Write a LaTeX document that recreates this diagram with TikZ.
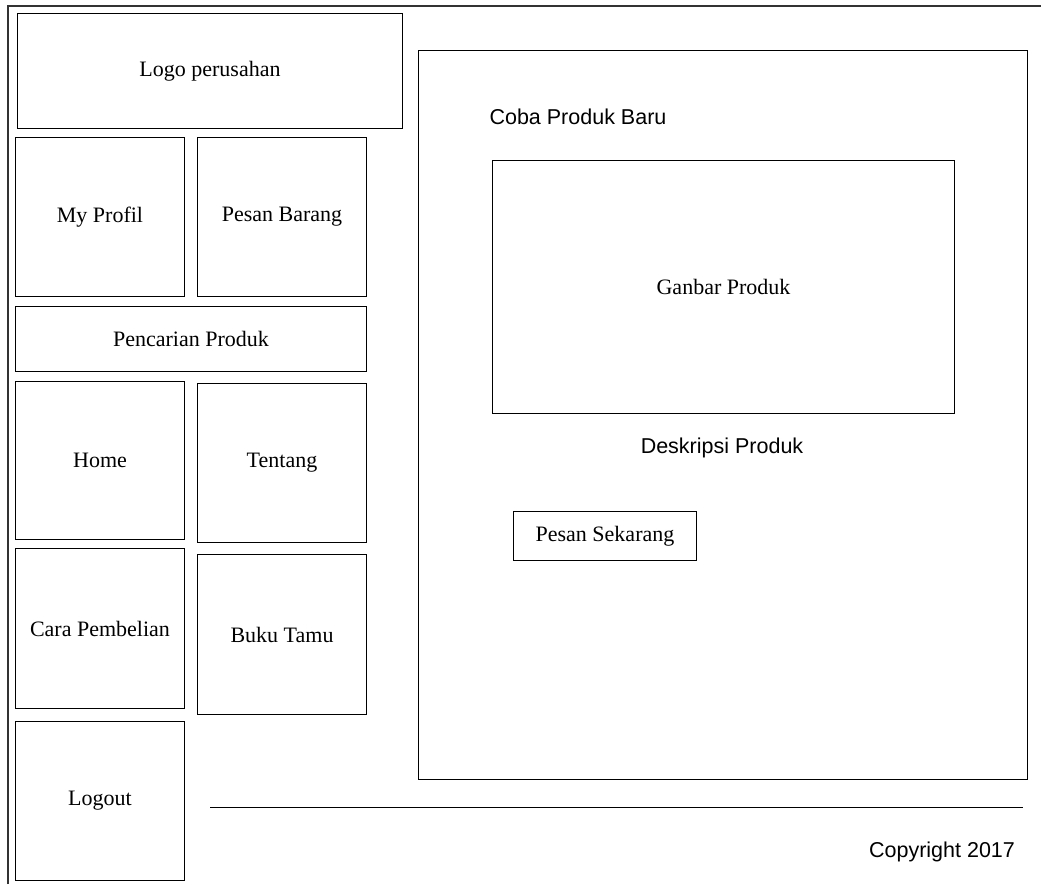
\documentclass[tikz,border=0pt]{standalone}
\usepackage{fontspec}
\setmainfont{Liberation Serif}
\newfontfamily\arial{Liberation Sans}

\tikzset{
  kotak/.style={draw, line width=1pt, inner sep=0pt, anchor=north west,
    font=\fontsize{22}{26}\selectfont},
  teks/.style={inner sep=0pt, font=\arial\fontsize{21.5}{25}\selectfont},
}

\begin{document}
\begin{tikzpicture}[x=1pt,y=-1pt]
\useasboundingbox (0,0) rectangle (1041,884);

%frame
\coordinate (FB) at (8,884);  % bottom of left edge
\coordinate (FT) at (8,6);    % top-left corner
\coordinate (FR) at (1041,6); % right end of top edge
\draw[line width=1.2pt, black!80] (FB) -- (FT) -- (FR);

%menu kiri
\node[kotak, minimum width=385, minimum height=115] (logo) at (17,13) {Logo perusahan};
\node[kotak, minimum width=169, minimum height=159] (profil) at (15,137) {My Profil};
\node[kotak, minimum width=169, minimum height=159] (pesan) at (197,137) {Pesan Barang};
\node[kotak, minimum width=351, minimum height=65] (cari) at (15,306) {Pencarian Produk};
\node[kotak, minimum width=169, minimum height=158] (home) at (15,381) {Home};
\node[kotak, minimum width=169, minimum height=159] (tentang) at (197,383) {Tentang};
\node[kotak, minimum width=169, minimum height=160] (cara) at (15,548) {Cara Pembelian};
\node[kotak, minimum width=169, minimum height=160] (tamu) at (197,554) {Buku Tamu};
\node[kotak, minimum width=169, minimum height=159] (logout) at (15,721) {Logout};

%isi
\node[kotak, minimum width=609, minimum height=729] (panel) at (418,50) {};
\node[teks] (coba) at (578,117) {Coba Produk Baru};
\node[kotak, minimum width=462, minimum height=253] (gambar) at (492,160) {Ganbar Produk};
\node[teks] (deskripsi) at (722,448) {Deskripsi Produk};
\node[kotak, minimum width=183, minimum height=49] (sekarang) at (513,511) {Pesan Sekarang};

%footer
\coordinate (GA) at (210,807);
\coordinate (GB) at (1023,807);
\draw[line width=1pt] (GA) -- (GB);
\node[teks] (copy) at (942,852) {Copyright 2017};
\end{tikzpicture}
\end{document}
